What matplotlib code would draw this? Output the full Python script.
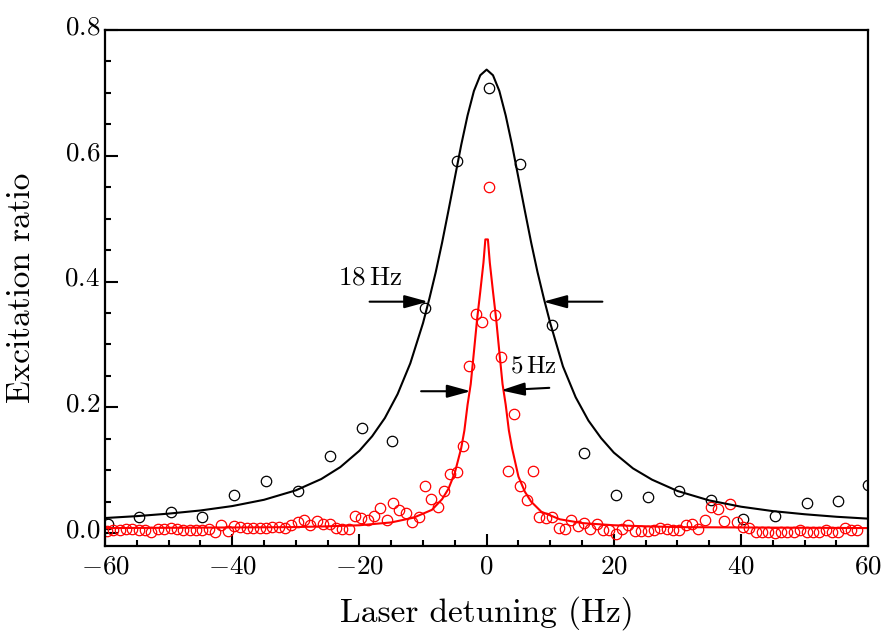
import matplotlib
matplotlib.use("Agg")
import matplotlib.pyplot as plt
from matplotlib.ticker import MultipleLocator, FormatStrFormatter
from matplotlib.transforms import ScaledTranslation

plt.rcParams['font.family'] = 'cmr10'
plt.rcParams['mathtext.fontset'] = 'cm'
plt.rcParams['axes.formatter.use_mathtext'] = True

# measured points, 18 Hz scan (black)
black_x = [-59.6, -54.7, -49.7, -44.7, -39.7, -34.7, -29.7, -24.7, -19.6, -14.8,
           -9.7, -4.7, 0.4, 5.2, 10.3, 15.3, 20.3, 25.3, 30.2, 35.2,
           40.3, 45.3, 50.4, 55.2, 59.9]
black_y = [0.015, 0.026, 0.033, 0.026, 0.060, 0.083, 0.067, 0.122, 0.167, 0.147,
           0.358, 0.592, 0.708, 0.587, 0.331, 0.127, 0.060, 0.058, 0.067, 0.053,
           0.022, 0.028, 0.048, 0.051, 0.077]

# measured points, 5 Hz scan (red)
red_x = [-59.7, -58.7, -57.7, -56.7, -55.7, -54.7, -53.7, -52.7, -51.7, -50.7,
         -49.7, -48.7, -47.7, -46.7, -45.7, -44.7, -43.7, -42.7, -41.7, -40.7,
         -39.7, -38.7, -37.7, -36.7, -35.7, -34.7, -33.7, -32.7, -31.7, -30.7,
         -29.7, -28.7, -27.7, -26.7, -25.7, -24.7, -23.7, -22.7, -21.7, -20.7,
         -19.7, -18.7, -17.7, -16.7, -15.7, -14.7, -13.7, -12.7, -11.7, -10.7,
         -9.7, -8.7, -7.7, -6.7, -5.7, -4.7, -3.7, -2.7, -1.7, -0.7,
         0.3, 1.3, 2.3, 3.3, 4.3, 5.3, 6.3, 7.3, 8.3, 9.3,
         10.3, 11.3, 12.3, 13.3, 14.3, 15.3, 16.3, 17.3, 18.3, 19.3,
         20.3, 21.3, 22.3, 23.3, 24.3, 25.3, 26.3, 27.3, 28.3, 29.3,
         30.3, 31.3, 32.3, 33.3, 34.3, 35.3, 36.3, 37.3, 38.3, 39.3,
         40.3, 41.3, 42.3, 43.3, 44.3, 45.3, 46.3, 47.3, 48.3, 49.3,
         50.3, 51.3, 52.3, 53.3, 54.3, 55.3, 56.3, 57.3, 58.3]
red_y = [0.003, 0.0045, 0.0055, 0.007, 0.007, 0.0055, 0.0055, 0.002, 0.007, 0.007,
         0.0087, 0.007, 0.0055, 0.0055, 0.0055, 0.0055, 0.007, 0.002, 0.0135, 0.003,
         0.011, 0.0097, 0.0087, 0.0087, 0.0087, 0.0087, 0.0097, 0.0097, 0.0087, 0.0135,
         0.0177, 0.0204, 0.0135, 0.019, 0.015, 0.015, 0.0087, 0.006, 0.007, 0.027,
         0.024, 0.0204, 0.0267, 0.040, 0.0215, 0.048, 0.0374, 0.032, 0.0177, 0.0256,
         0.075, 0.054, 0.0415, 0.067, 0.0947, 0.097, 0.139, 0.265, 0.348, 0.336,
         0.551, 0.347, 0.280, 0.098, 0.189, 0.075, 0.052, 0.098, 0.0256, 0.0246,
         0.0256, 0.0087, 0.006, 0.0204, 0.0108, 0.016, 0.007, 0.015, 0.0056, 0.0045,
         -0.001, 0.007, 0.0135, 0.0034, 0.0034, 0.0034, 0.0045, 0.0087, 0.007, 0.0056,
         0.0056, 0.0124, 0.015, 0.007, 0.0204, 0.042, 0.038, 0.019, 0.047, 0.0177,
         0.0097, 0.008, 0.002, 0.002, 0.001, 0.0, 0.001, 0.001, 0.002, 0.0045,
         0.002, 0.001, 0.002, 0.0045, 0.002, 0.001, 0.008, 0.0045, 0.0045]

# fitted curves
black_fit_x = [-60, -55, -50, -45, -40, -35, -30, -26, -23, -20, -18, -16, -14, -12,
               -10, -9, -8, -7, -6, -5, -4, -3, -2, -1, 0,
               1, 2, 3, 4, 5, 6, 7, 8, 9, 10,
               12, 14, 16, 18, 20, 23, 26, 30, 35, 40, 45, 50, 55, 60]
black_fit_y = [0.024, 0.027, 0.031, 0.036, 0.043, 0.053, 0.068, 0.086, 0.105, 0.131,
               0.154, 0.183, 0.221, 0.270, 0.334, 0.373, 0.415, 0.462, 0.513, 0.565,
               0.617, 0.664, 0.703, 0.728, 0.737,
               0.728, 0.703, 0.664, 0.617, 0.565, 0.513, 0.462, 0.415, 0.373, 0.334,
               0.265, 0.216, 0.179, 0.151, 0.128, 0.103, 0.085, 0.067, 0.052, 0.042,
               0.035, 0.030, 0.026, 0.023]

red_fit_x = [-60, -50, -40, -31, -26, -20, -15, -11.5, -8.6, -7, -6, -5, -4, -3.5,
             -3, -2.5, -2, -1.5, -1, -0.5, -0.2,
             0.2, 0.5, 1, 1.5, 2, 2.5, 3, 3.5, 4, 5, 6, 7, 8.6, 11.5,
             15, 20, 26, 31, 40, 50, 60]
red_fit_y = [0.008, 0.0085, 0.009, 0.0095, 0.0105, 0.0125, 0.017, 0.0245, 0.037, 0.054,
             0.0705, 0.096, 0.135, 0.163, 0.204, 0.237, 0.288, 0.340, 0.384, 0.430, 0.467,
             0.467, 0.430, 0.384, 0.340, 0.288, 0.237, 0.204, 0.163, 0.135, 0.090,
             0.066, 0.050, 0.034, 0.022, 0.016, 0.0125, 0.0105, 0.0095, 0.009, 0.0085, 0.008]

fig = plt.figure(figsize=(8.92, 6.42), dpi=100)
ax = fig.add_axes([0.1177, 0.15, 0.8557, 0.8033])

ax.plot(black_x, black_y, 'o', mfc='none', mec='black', ms=7.5, mew=0.9)
ax.plot(red_x, red_y, 'o', mfc='none', mec='red', ms=7.5, mew=0.9)
ax.plot(black_fit_x, black_fit_y, color='black', lw=1.5)
ax.plot(red_fit_x, red_fit_y, color='red', lw=1.5)

ax.set_xlim(-60, 60)
ax.set_ylim(-0.02, 0.8)
ax.xaxis.set_major_locator(MultipleLocator(20))
ax.xaxis.set_minor_locator(MultipleLocator(5))
ax.yaxis.set_major_locator(MultipleLocator(0.2))
ax.yaxis.set_minor_locator(MultipleLocator(0.05))
ax.yaxis.set_major_formatter(FormatStrFormatter('$%.1f$'))

for s in ax.spines.values():
    s.set_linewidth(1.6)
ax.tick_params(which='both', direction='in', top=False, right=False, width=1.5)
ax.tick_params(which='major', length=9, labelsize=19.5)
ax.tick_params(which='minor', length=4.5)
ax.tick_params(axis='x', pad=6.5)
ax.tick_params(axis='y', pad=3.5)

# pgfplots style: y tick labels sit a little above their ticks
for tick in ax.yaxis.get_major_ticks():
    tick.label1.set_transform(tick.label1.get_transform()
                              + ScaledTranslation(0, 0.05, fig.dpi_scale_trans))

ax.set_xlabel('Laser detuning (Hz)', fontsize=24, va='center')
ax.xaxis.set_label_coords(0.5, -0.1305)
ax.set_ylabel('Excitation ratio', fontsize=24, va='center', ha='center')
ax.yaxis.set_label_coords(-0.1088, 0.5)

arrow = dict(arrowstyle='-|>,head_length=0.8,head_width=0.22', color='black', lw=1.5,
             mutation_scale=18, shrinkA=0, shrinkB=0)
ax.annotate('', xy=(-9.2, 0.368), xytext=(-18.4, 0.368), arrowprops=arrow)
ax.annotate('', xy=(8.9, 0.368), xytext=(18.2, 0.368), arrowprops=arrow)
ax.annotate('', xy=(-2.5, 0.2256), xytext=(-10.3, 0.2256), arrowprops=arrow)
ax.annotate('', xy=(2.25, 0.227), xytext=(9.85, 0.231), arrowprops=arrow)

ax.text(-18.4, 0.407, r'$18\,\mathrm{Hz}$', fontsize=19.5, ha='center', va='center')
ax.text(7.3, 0.265, r'$5\,\mathrm{Hz}$', fontsize=18, ha='center', va='center')

fig.savefig('out.png', dpi=100)
